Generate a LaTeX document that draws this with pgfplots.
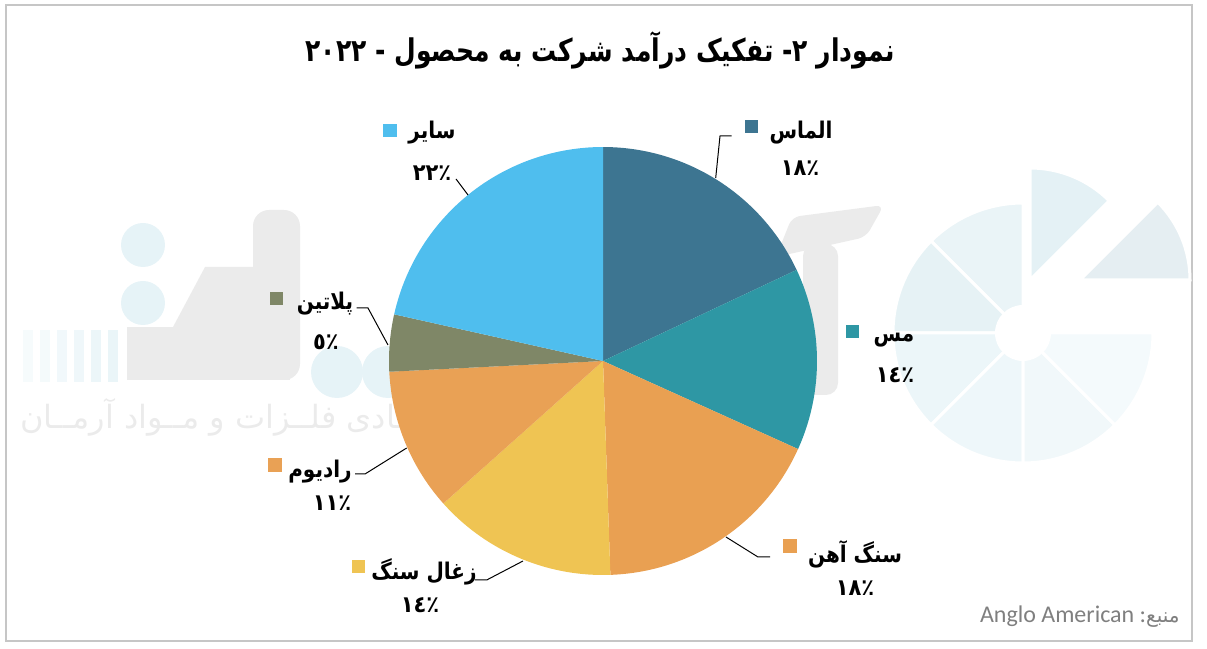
\documentclass[border=0pt]{standalone}
\usepackage{pgfplots}
\pgfplotsset{compat=1.18}
\usepackage{pgfplotstable}
\usepackage{fontspec}
\setmainfont{Liberation Sans}
\newfontfamily\fa[Script=Arabic]{DejaVu Sans}
\newfontfamily\calfont{Carlito}
\TeXXeTstate=1
\definecolor{cA}{HTML}{3D7591}
\definecolor{cB}{HTML}{2E97A4}
\definecolor{cC}{HTML}{E9A052}
\definecolor{cD}{HTML}{EFC453}
\definecolor{cE}{HTML}{E9A155}
\definecolor{cF}{HTML}{7F8767}
\definecolor{cG}{HTML}{4FBEEE}
\definecolor{wmgray}{HTML}{EBEBEB}
\definecolor{wmblue}{HTML}{E6F3F7}
\definecolor{src}{HTML}{7F7F7F}
\definecolor{l1}{HTML}{EAF4F7}
\definecolor{l2}{HTML}{E6F2F5}
\definecolor{l3}{HTML}{ECF6F9}
\definecolor{l4}{HTML}{EEF7FA}
\definecolor{l5}{HTML}{F1F8FA}
\definecolor{l6}{HTML}{F4FAFC}
\definecolor{l7}{HTML}{E4F1F5}
\definecolor{l8}{HTML}{E5EEF2}

\pgfplotstableread{
val
18.0
13.75
17.7
13.95
10.8
4.3
21.5
}\pietable

\begin{document}
\begin{tikzpicture}[
  lab/.style={font=\fa\bfseries\fontsize{10}{12}\selectfont,inner sep=0pt,yscale=1.15},
  pct/.style={font=\fa\bfseries\fontsize{10.5}{12}\selectfont,inner sep=0pt,yscale=1.1}]
\pgfmathsetmacro\aA{90}
\pgfplotstablegetelem{0}{val}\of\pietable \pgfmathsetmacro\aB{\aA-3.6*\pgfplotsretval}
\pgfplotstablegetelem{1}{val}\of\pietable \pgfmathsetmacro\aC{\aB-3.6*\pgfplotsretval}
\pgfplotstablegetelem{2}{val}\of\pietable \pgfmathsetmacro\aD{\aC-3.6*\pgfplotsretval}
\pgfplotstablegetelem{3}{val}\of\pietable \pgfmathsetmacro\aE{\aD-3.6*\pgfplotsretval}
\pgfplotstablegetelem{4}{val}\of\pietable \pgfmathsetmacro\aF{\aE-3.6*\pgfplotsretval}
\pgfplotstablegetelem{5}{val}\of\pietable \pgfmathsetmacro\aG{\aF-3.6*\pgfplotsretval}
\pgfplotstablegetelem{6}{val}\of\pietable \pgfmathsetmacro\aH{\aG-3.6*\pgfplotsretval}
\begin{axis}[width=603.5pt,height=324.5pt,scale only axis,
  xmin=0,xmax=1207,ymin=0,ymax=649,hide axis,clip=false]
% page extent
\path (axis cs:0,0) rectangle (axis cs:1207,649);
% frame
\draw[gray!45,line width=0.6pt] (axis cs:6,8) rectangle (axis cs:1192,644);
% watermark (decorative)
\fill[wmgray,rounded corners=8pt] (axis cs:253,269) rectangle (axis cs:300,439);
\fill[wmgray] (axis cs:127,269) rectangle (axis cs:290,322);
\fill[wmgray] (axis cs:173,322) -- (axis cs:253,322) -- (axis cs:253,382) -- (axis cs:205,382) -- cycle;
\fill[wmgray,rounded corners=6pt] (axis cs:803,254) rectangle (axis cs:838,405);
\fill[wmgray,rounded corners=4pt] (axis cs:776,392) -- (axis cs:792,432) -- (axis cs:884,444) -- (axis cs:866,412) -- cycle;
\fill[wmblue,opacity=0.35] (axis cs:23,267) rectangle (axis cs:33,319);
\fill[wmblue,opacity=0.45] (axis cs:40,267) rectangle (axis cs:50,319);
\fill[wmblue,opacity=0.55] (axis cs:57,267) rectangle (axis cs:67,319);
\fill[wmblue,opacity=0.65] (axis cs:74,267) rectangle (axis cs:84,319);
\fill[wmblue,opacity=0.75] (axis cs:91,267) rectangle (axis cs:101,319);
\fill[wmblue,opacity=0.85] (axis cs:108,267) rectangle (axis cs:118,319);
\fill[wmblue] (axis cs:143,404) circle[radius=11pt];
\fill[wmblue] (axis cs:143,346) circle[radius=11pt];
\fill[wmblue] (axis cs:337,277) circle[radius=13pt];
\fill[wmblue] (axis cs:388,277) circle[radius=13pt];
\node[anchor=west,inner sep=0pt,text=wmgray,font=\fa\fontsize{16}{20}\selectfont] at (axis cs:20,232)
  {\beginR شرکــت مشــاوره اقتصــادی فلــزات و مــواد آرمــان\endR};
% right logo
\fill[l1,draw=white,line width=1.5pt] (axis cs:1023,316) -- ++(90:65pt) arc[start angle=90,end angle=135,radius=65pt] -- cycle;
\fill[l2,draw=white,line width=1.5pt] (axis cs:1023,316) -- ++(135:65pt) arc[start angle=135,end angle=180,radius=65pt] -- cycle;
\fill[l3,draw=white,line width=1.5pt] (axis cs:1023,316) -- ++(180:65pt) arc[start angle=180,end angle=225,radius=65pt] -- cycle;
\fill[l4,draw=white,line width=1.5pt] (axis cs:1023,316) -- ++(225:65pt) arc[start angle=225,end angle=270,radius=65pt] -- cycle;
\fill[l5,draw=white,line width=1.5pt] (axis cs:1023,316) -- ++(270:65pt) arc[start angle=270,end angle=315,radius=65pt] -- cycle;
\fill[l6,draw=white,line width=1.5pt] (axis cs:1023,316) -- ++(315:65pt) arc[start angle=315,end angle=360,radius=65pt] -- cycle;
\fill[l7,draw=white,line width=1.5pt] (axis cs:1030,369) -- ++(45:56pt) arc[start angle=45,end angle=90,radius=56pt] -- cycle;
\fill[l8,draw=white,line width=1.5pt] (axis cs:1080,369) -- ++(0:55pt) arc[start angle=0,end angle=45,radius=55pt] -- cycle;
\fill[white] (axis cs:1023,316) circle[radius=14pt];
% pie
\addplot[draw=none,fill=cA,domain=\aB:\aA,samples=60,variable=\t] ({603+214*cos(\t)},{288+214*sin(\t)}) -- (axis cs:603,288) -- cycle;
\addplot[draw=none,fill=cB,domain=\aC:\aB,samples=60,variable=\t] ({603+214*cos(\t)},{288+214*sin(\t)}) -- (axis cs:603,288) -- cycle;
\addplot[draw=none,fill=cC,domain=\aD:\aC,samples=60,variable=\t] ({603+214*cos(\t)},{288+214*sin(\t)}) -- (axis cs:603,288) -- cycle;
\addplot[draw=none,fill=cD,domain=\aE:\aD,samples=60,variable=\t] ({603+214*cos(\t)},{288+214*sin(\t)}) -- (axis cs:603,288) -- cycle;
\addplot[draw=none,fill=cE,domain=\aF:\aE,samples=60,variable=\t] ({603+214*cos(\t)},{288+214*sin(\t)}) -- (axis cs:603,288) -- cycle;
\addplot[draw=none,fill=cF,domain=\aG:\aF,samples=60,variable=\t] ({603+214*cos(\t)},{288+214*sin(\t)}) -- (axis cs:603,288) -- cycle;
\addplot[draw=none,fill=cG,domain=\aH:\aG,samples=60,variable=\t] ({603+214*cos(\t)},{288+214*sin(\t)}) -- (axis cs:603,288) -- cycle;
% leader lines
\draw[black,line width=0.5pt] (axis cs:731.7,513) -- (axis cs:720,513) -- (axis cs:715.7,471);
\draw[black,line width=0.5pt] (axis cs:456,470) -- (axis cs:468,454);
\draw[black,line width=0.5pt] (axis cs:770,92) -- (axis cs:758,92) -- (axis cs:726,112);
\draw[black,line width=0.5pt] (axis cs:475,69) -- (axis cs:486.7,69) -- (axis cs:523,88);
\draw[black,line width=0.5pt] (axis cs:355,175) -- (axis cs:365,175) -- (axis cs:406.7,201);
\draw[black,line width=0.5pt] (axis cs:356.7,341) -- (axis cs:368,341) -- (axis cs:388,304);
% legend squares
\fill[cA] (axis cs:745,516) rectangle (axis cs:758,529);
\fill[cG] (axis cs:383,512) rectangle (axis cs:397,525);
\fill[cB] (axis cs:846,311) rectangle (axis cs:859,324);
\fill[cC] (axis cs:783,96) rectangle (axis cs:797,110);
\fill[cD] (axis cs:352,76) rectangle (axis cs:365,89);
\fill[cE] (axis cs:268,177) rectangle (axis cs:282,191);
\fill[cF] (axis cs:270,344) rectangle (axis cs:283,357);
% labels
\node[lab] at (axis cs:801,516) {\beginR الماس\endR};
\node[pct] at (axis cs:800,481) {\hbox{١٨}\hbox{٪}};
\node[lab] at (axis cs:432,516) {\beginR سایر\endR};
\node[pct] at (axis cs:432,476) {\hbox{٢٢}\hbox{٪}};
\node[lab] at (axis cs:894,309) {\beginR مس\endR};
\node[pct] at (axis cs:895,274) {\hbox{١٤}\hbox{٪}};
\node[lab] at (axis cs:855,95) {\beginR سنگ آهن\endR};
\node[pct] at (axis cs:855,61) {\hbox{١٨}\hbox{٪}};
\node[lab] at (axis cs:424,77) {\beginR زغال سنگ\endR};
\node[pct] at (axis cs:420,44) {\hbox{١٤}\hbox{٪}};
\node[lab] at (axis cs:320,177) {\beginR رادیوم\endR};
\node[pct] at (axis cs:332,146) {\hbox{١١}\hbox{٪}};
\node[lab] at (axis cs:325,345) {\beginR پلاتین\endR};
\node[pct] at (axis cs:326,307) {\hbox{٥}\hbox{٪}};
% title
\node[inner sep=0pt,font=\fa\bfseries\fontsize{12.5}{15}\selectfont,yscale=1.25] at (axis cs:600,599)
  {\beginR نمودار ۲- تفکیک درآمد شرکت به محصول - ۲۰۲۲\endR};
% source
\node[anchor=east,inner sep=0pt,text=src] at (axis cs:1180,32)
  {{\calfont\fontsize{12}{14}\selectfont Anglo American :}\hbox{\fa\fontsize{10}{12}\selectfont منبع}};
\end{axis}
\end{tikzpicture}
\end{document}
